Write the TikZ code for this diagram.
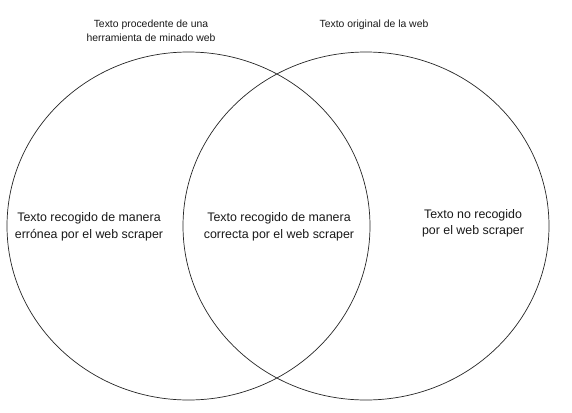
\documentclass[tikz,border=0pt]{standalone}
\usepackage{fontspec}
\setmainfont{Liberation Sans}
\begin{document}
\begin{tikzpicture}[x=1pt,y=-1pt,
  venn/.style={draw=black!85,line width=0.7pt},
  lbl/.style={align=center,font=\fontsize{12.4}{16.5}\selectfont,text=black!90,inner sep=0pt},
  ttl/.style={align=center,font=\fontsize{10.4}{14}\selectfont,text=black!90,inner sep=0pt}]
\useasboundingbox[fill=white] (0,0) rectangle (572,412);
\draw[venn] (188.5,226) ellipse [x radius=181.5, y radius=174];
\draw[venn] (366,226) ellipse [x radius=183, y radius=174];
\node[ttl] (t1) at (151,31) {Texto procedente de una\\herramienta de minado web};
\node[ttl] (t2) at (374,24.5) {Texto original de la web};
\node[lbl] (a) at (89,227) {Texto recogido de manera\\errónea por el web scraper};
\node[lbl] (b) at (279,227) {Texto recogido de manera\\correcta por el web scraper};
\node[lbl] (c) at (473,223.5) {Texto no recogido\\por el web scraper};
\end{tikzpicture}
\end{document}
